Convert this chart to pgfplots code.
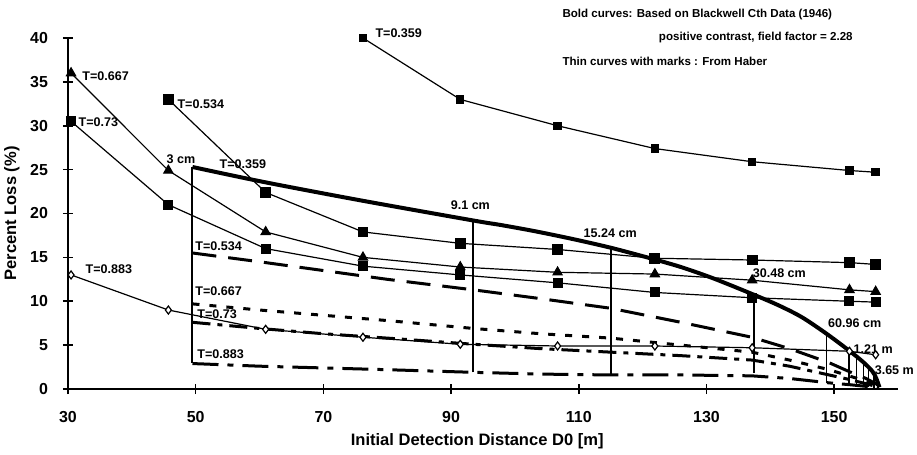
\documentclass[border=0pt]{standalone}
\usepackage{fontspec}
\setmainfont{Liberation Sans}
\usepackage{pgfplots}
\pgfplotsset{compat=1.18}
\newcommand{\tl}{\bfseries\fontsize{6.3}{7}\selectfont}
\newcommand{\al}{\bfseries\fontsize{5.8}{6.8}\selectfont}
\begin{document}
\begin{tikzpicture}
\useasboundingbox (-34bp,-33bp) rectangle (424.5bp,194.5bp);
\begin{axis}[
  scale only axis, width=415bp, height=175.5bp,
  xmin=30, xmax=160, ymin=0, ymax=40,
  axis x line=bottom, axis y line=left,
  axis line style={-, line width=0.9bp},
  tick align=center, major tick length=5bp,
  tick style={line width=0.8bp, black},
  xtick={30,50,...,150}, ytick={0,5,...,40},
  /pgf/number format/assume math mode=true,
  ticklabel style={font=\bfseries\fontsize{8}{9}\selectfont},
  xticklabel style={yshift=-5bp},
  yticklabel style={xshift=-4bp},
  clip=false,
]
% Thin curves (Haber)
\addplot[black, line width=0.6bp, mark=square*, mark size=1.8bp] coordinates {(76.2,40)(91.44,33)(106.68,30)(121.92,27.4)(137.16,25.9)(152.4,24.9)(156.5,24.7)};
\addplot[black, line width=0.6bp, mark=square*, mark size=2.4bp] coordinates {(45.72,33)(60.96,22.4)(76.2,17.9)(91.44,16.6)(106.68,15.9)(121.92,14.9)(137.16,14.7)(152.4,14.4)(156.5,14.2)};
\addplot[black, line width=0.6bp, mark=triangle*, mark size=2.6bp] coordinates {(30.48,36)(45.72,24.9)(60.96,17.9)(76.2,15.0)(91.44,13.9)(106.68,13.3)(121.92,13.1)(137.16,12.4)(152.4,11.3)(156.5,11.1)};
\addplot[black, line width=0.6bp, mark=square*, mark size=2.2bp] coordinates {(30.48,30.5)(45.72,21)(60.96,16)(76.2,14)(91.44,13)(106.68,12.1)(121.92,11)(137.16,10.4)(152.4,10)(156.5,9.9)};
\addplot[black, line width=0.6bp, mark=diamond*, mark size=2bp, mark options={fill=white, line width=0.6bp}] coordinates {(30.48,13)(45.72,9)(60.96,6.8)(76.2,5.9)(91.44,5.1)(106.68,4.9)(121.92,4.9)(137.16,4.7)(152.4,4.3)(156.5,3.9)};
% Bold curve (Blackwell, T=0.359)
\addplot[black, line width=2bp, smooth, no marks] coordinates {(49.5,25.3)(60.6,23.6)(75.8,21.5)(93.5,19.2)(97.7,18.7)(103,18.0)(109,17.1)(115,16.1)(121.2,14.9)(126,13.9)(131.1,12.6)(136.9,10.9)(141.1,9.6)(144.9,8.2)(148.8,6.3)(152.3,4.4)(154.5,3.1)(156,2.0)(156.6,1.2)(157.1,0.2)};
% Dashed curves
\addplot[black, line width=1.5bp, no marks, dash pattern=on 12bp off 6bp] coordinates {(49.5,15.5)(60,14.5)(70,13.5)(80,12.5)(93.5,11.3)(104,10.3)(115,9.2)(126,7.6)(137.1,5.9)(143,4.6)(149.2,3.0)(152.3,2.0)(155,1.2)(157,0.4)};
\addplot[black, line width=1.5bp, no marks, dash pattern=on 3.5bp off 5bp] coordinates {(49.5,9.7)(60,9.0)(70,8.4)(80,7.8)(93.5,6.9)(104,6.3)(115,5.8)(126,5.0)(137.1,4.2)(143,3.3)(149.2,2.2)(152.3,1.5)(155,0.9)(157,0.3)};
\addplot[black, line width=1.5bp, no marks, dash pattern=on 9bp off 3.5bp on 2.5bp off 3.5bp] coordinates {(49.5,7.6)(60,6.9)(70,6.3)(80,5.8)(93.5,5.1)(104,4.6)(115,4.2)(126,3.8)(137.1,3.3)(143,2.6)(149.2,1.6)(152.3,1.1)(155,0.6)(157,0.2)};
\addplot[black, line width=1.5bp, no marks, dash pattern=on 13bp off 4.5bp on 3bp off 4.5bp] coordinates {(49.5,2.9)(60,2.6)(70,2.4)(80,2.2)(93.5,1.9)(104,1.7)(115,1.6)(126,1.6)(137.1,1.5)(143,1.2)(149.2,0.7)(152.3,0.5)(155,0.3)(157,0.1)};
% Vertical lines
\addplot[black, line width=1bp, no marks] coordinates {(49.5,3.0)(49.5,25.3)};
\addplot[black, line width=1bp, no marks] coordinates {(93.5,1.9)(93.5,19.2)};
\addplot[black, line width=1bp, no marks] coordinates {(115,1.6)(115,16.1)};
\addplot[black, line width=1bp, no marks] coordinates {(137.4,1.8)(137.4,10.7)};
\addplot[black, line width=0.8bp, no marks] coordinates {(148.8,0.7)(148.8,6.3)};
\addplot[black, line width=0.8bp, no marks] coordinates {(152.3,0.5)(152.3,4.4)};
\addplot[black, line width=0.8bp, no marks] coordinates {(153.5,0.4)(153.5,3.6)};
\addplot[black, line width=0.8bp, no marks] coordinates {(154.6,0.3)(154.6,2.9)};
\addplot[black, line width=0.8bp, no marks] coordinates {(155.4,0.2)(155.4,2.3)};
\addplot[black, line width=0.8bp, no marks] coordinates {(156.2,0.1)(156.2,1.7)};
% Labels
\node[anchor=west, inner sep=0, font=\tl] at (axis cs:78.1,40.6) {T=0.359};
\node[anchor=west, inner sep=0, font=\tl] at (axis cs:32.2,35.6) {T=0.667};
\node[anchor=west, inner sep=0, font=\tl] at (axis cs:47.1,32.5) {T=0.534};
\node[anchor=west, inner sep=0, font=\tl] at (axis cs:31.6,30.4) {T=0.73};
\node[anchor=west, inner sep=0, font=\tl] at (axis cs:45.4,26.2) {3 cm};
\node[anchor=west, inner sep=0, font=\tl] at (axis cs:53.7,25.6) {T=0.359};
\node[anchor=west, inner sep=0, font=\tl] at (axis cs:49.9,16.3) {T=0.534};
\node[anchor=west, inner sep=0, font=\tl] at (axis cs:32.7,13.6) {T=0.883};
\node[anchor=west, inner sep=0, font=\tl] at (axis cs:49.9,11.1) {T=0.667};
\node[anchor=west, inner sep=0, font=\tl] at (axis cs:50.2,8.5) {T=0.73};
\node[anchor=west, inner sep=0, font=\tl] at (axis cs:50.2,4.0) {T=0.883};
\node[anchor=west, inner sep=0, font=\tl] at (axis cs:89.9,21.0) {9.1 cm};
\node[anchor=west, inner sep=0, font=\tl] at (axis cs:110.7,17.8) {15.24 cm};
\node[anchor=west, inner sep=0, font=\tl] at (axis cs:137.2,13.2) {30.48 cm};
\node[anchor=west, inner sep=0, font=\tl] at (axis cs:149.0,7.5) {60.96 cm};
\node[anchor=west, inner sep=0, font=\tl] at (axis cs:153.0,4.6) {1.21 m};
\node[anchor=west, inner sep=0, font=\tl] at (axis cs:156.3,2.1) {3.65 m};
\node[anchor=west, inner sep=0, font=\al] at (axis cs:107.4,42.7) {Bold curves: Based on Blackwell Cth Data (1946)};
\node[anchor=west, inner sep=0, font=\al] at (axis cs:122.5,40.1) {positive contrast, field factor = 2.28};
\node[anchor=west, inner sep=0, font=\al] at (axis cs:107.4,37.3) {Thin curves with marks : From Haber};
\node[anchor=center, inner sep=0, font=\bfseries\fontsize{8.3}{9}\selectfont] at (axis description cs:0.493,-0.148) {Initial Detection Distance D0 [m]};
\node[anchor=center, inner sep=0, rotate=90, font=\bfseries\fontsize{8.3}{9}\selectfont] at (axis description cs:-0.0675,0.5) {Percent Loss (\%)};
\end{axis}
\end{tikzpicture}
\end{document}
